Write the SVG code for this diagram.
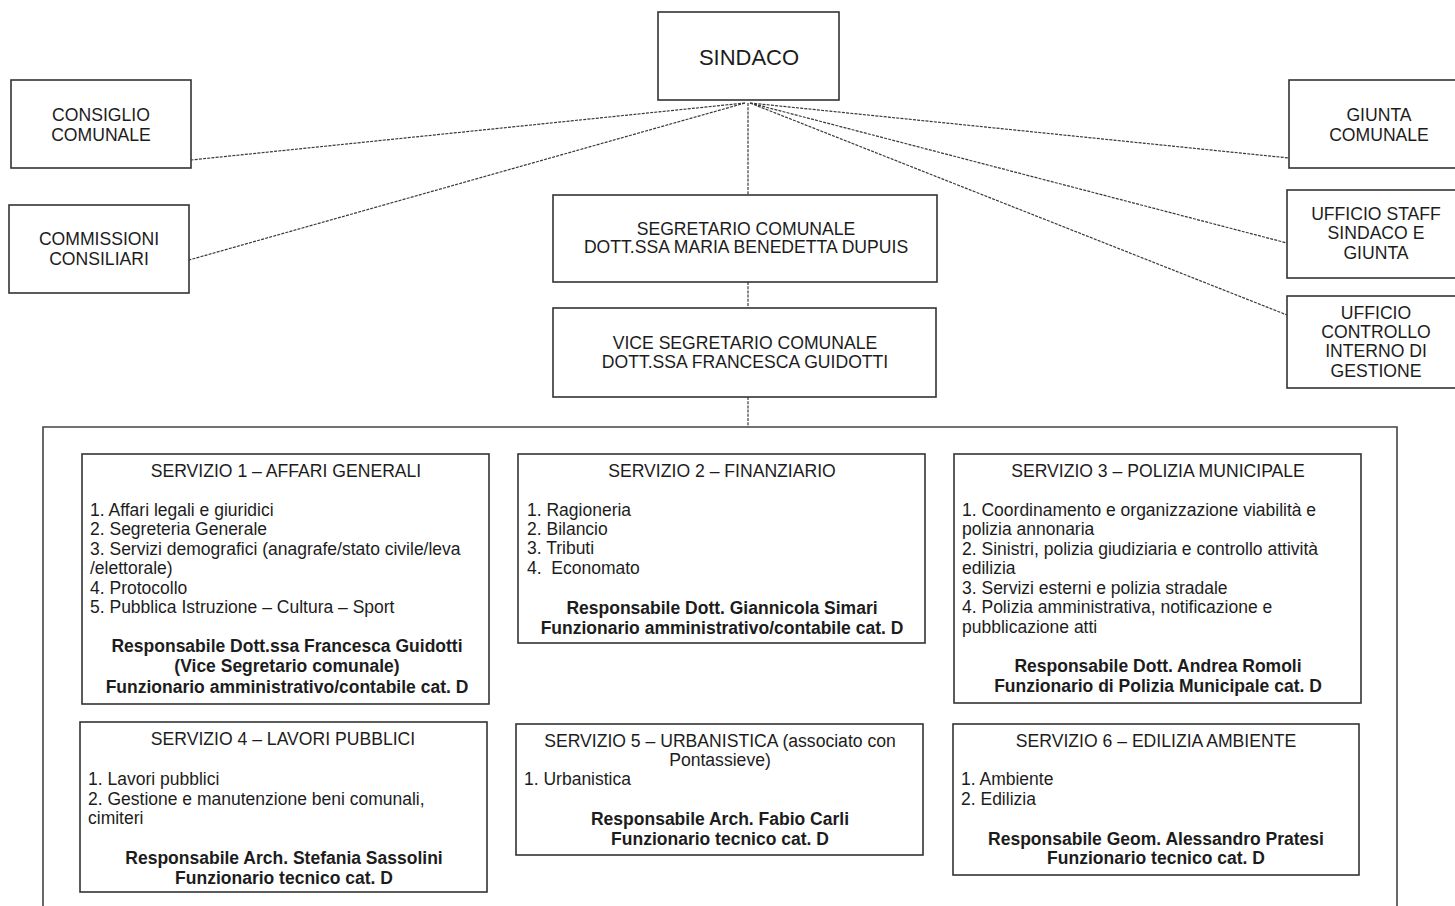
<svg xmlns="http://www.w3.org/2000/svg" width="1455" height="906" viewBox="0 0 1455 906">
<style>
.box{fill:#fff;stroke:#333;stroke-width:1.6}
.cont{fill:none;stroke:#444;stroke-width:1.6}
text{font-family:"Liberation Sans",Arial,sans-serif;fill:#1c1c1c}
.n{font-size:17.6px;text-anchor:middle}
.t{font-size:17.6px;text-anchor:middle}
.i{font-size:17.5px}
.b{font-size:17.5px;font-weight:bold;text-anchor:middle}
.c{fill:none;stroke:#3a3a3a;stroke-width:1.2;stroke-dasharray:3 1.2}
</style>
<rect width="1455" height="906" fill="#fff"/>
<g id="connectors">
<line class="c" x1="745" y1="103" x2="191" y2="160"/>
<line class="c" x1="745" y1="103" x2="189" y2="260"/>
<line class="c" x1="750" y1="103" x2="1289" y2="158"/>
<line class="c" x1="750" y1="103" x2="1287" y2="243"/>
<line class="c" x1="750" y1="103" x2="1287" y2="315"/>
<line class="c" x1="748" y1="103" x2="748" y2="195"/>
<line class="c" x1="748" y1="282" x2="748" y2="308"/>
<line class="c" x1="748" y1="397" x2="748" y2="427"/>
</g>
<g id="sindaco">
<rect class="box" x="658" y="12" width="181" height="88"/>
<text x="749" y="65" style="font-size:22px;text-anchor:middle">SINDACO</text>
</g>
<g id="consiglio">
<rect class="box" x="11" y="80" width="180" height="88"/>
<text class="n" x="101" y="121">CONSIGLIO</text>
<text class="n" x="101" y="141">COMUNALE</text>
</g>
<g id="commissioni">
<rect class="box" x="9" y="205" width="180" height="88"/>
<text class="n" x="99" y="245">COMMISSIONI</text>
<text class="n" x="99" y="265">CONSILIARI</text>
</g>
<g id="giunta">
<rect class="box" x="1289" y="80" width="180" height="88"/>
<text class="n" x="1379" y="121">GIUNTA</text>
<text class="n" x="1379" y="141">COMUNALE</text>
</g>
<g id="staff">
<rect class="box" x="1287" y="190" width="180" height="88"/>
<text class="n" x="1376" y="220">UFFICIO STAFF</text>
<text class="n" x="1376" y="239">SINDACO E</text>
<text class="n" x="1376" y="259">GIUNTA</text>
</g>
<g id="controllo">
<rect class="box" x="1287" y="296" width="180" height="92"/>
<text class="n" x="1376" y="319">UFFICIO</text>
<text class="n" x="1376" y="338">CONTROLLO</text>
<text class="n" x="1376" y="357">INTERNO DI</text>
<text class="n" x="1376" y="377">GESTIONE</text>
</g>
<g id="segretario">
<rect class="box" x="553" y="195" width="384" height="87"/>
<text class="n" x="746" y="235">SEGRETARIO COMUNALE</text>
<text class="n" x="746" y="253">DOTT.SSA MARIA BENEDETTA DUPUIS</text>
</g>
<g id="vice">
<rect class="box" x="553" y="308" width="383" height="89"/>
<text class="n" x="745" y="349">VICE SEGRETARIO COMUNALE</text>
<text class="n" x="745" y="368">DOTT.SSA FRANCESCA GUIDOTTI</text>
</g>
<g id="servizi">
<path class="cont" d="M43 910 V427 H1397 V910"/>
</g>
<g id="servizio1">
<rect class="box" x="82" y="454" width="407" height="250"/>
<text class="t" x="286" y="477">SERVIZIO 1 – AFFARI GENERALI</text>
<text class="i" x="90" y="516">1. Affari legali e giuridici</text>
<text class="i" x="90" y="535">2. Segreteria Generale</text>
<text class="i" x="90" y="555">3. Servizi demografici (anagrafe/stato civile/leva</text>
<text class="i" x="90" y="574">/elettorale)</text>
<text class="i" x="90" y="594">4. Protocollo</text>
<text class="i" x="90" y="613">5. Pubblica Istruzione – Cultura – Sport</text>
<text class="b" x="287" y="652">Responsabile Dott.ssa Francesca Guidotti</text>
<text class="b" x="287" y="672">(Vice Segretario comunale)</text>
<text class="b" x="287" y="693">Funzionario amministrativo/contabile cat. D</text>
</g>
<g id="servizio2">
<rect class="box" x="518" y="454" width="407" height="189"/>
<text class="t" x="722" y="477">SERVIZIO 2 – FINANZIARIO</text>
<text class="i" x="527" y="516">1. Ragioneria</text>
<text class="i" x="527" y="535">2. Bilancio</text>
<text class="i" x="527" y="554">3. Tributi</text>
<text class="i" x="527" y="574" xml:space="preserve">4.  Economato</text>
<text class="b" x="722" y="614">Responsabile Dott. Giannicola Simari</text>
<text class="b" x="722" y="634">Funzionario amministrativo/contabile cat. D</text>
</g>
<g id="servizio3">
<rect class="box" x="954" y="454" width="407" height="249"/>
<text class="t" x="1158" y="477">SERVIZIO 3 – POLIZIA MUNICIPALE</text>
<text class="i" x="962" y="516">1. Coordinamento e organizzazione viabilità e</text>
<text class="i" x="962" y="535">polizia annonaria</text>
<text class="i" x="962" y="555">2. Sinistri, polizia giudiziaria e controllo attività</text>
<text class="i" x="962" y="574">edilizia</text>
<text class="i" x="962" y="594">3. Servizi esterni e polizia stradale</text>
<text class="i" x="962" y="613">4. Polizia amministrativa, notificazione e</text>
<text class="i" x="962" y="633">pubblicazione atti</text>
<text class="b" x="1158" y="672">Responsabile Dott. Andrea Romoli</text>
<text class="b" x="1158" y="692">Funzionario di Polizia Municipale cat. D</text>
</g>
<g id="servizio4">
<rect class="box" x="80" y="722" width="407" height="170"/>
<text class="t" x="283" y="745">SERVIZIO 4 – LAVORI PUBBLICI</text>
<text class="i" x="88" y="785">1. Lavori pubblici</text>
<text class="i" x="88" y="805">2. Gestione e manutenzione beni comunali,</text>
<text class="i" x="88" y="824">cimiteri</text>
<text class="b" x="284" y="864">Responsabile Arch. Stefania Sassolini</text>
<text class="b" x="284" y="884">Funzionario tecnico cat. D</text>
</g>
<g id="servizio5">
<rect class="box" x="516" y="724" width="407" height="131"/>
<text class="t" x="720" y="747">SERVIZIO 5 – URBANISTICA (associato con</text>
<text class="t" x="720" y="766">Pontassieve)</text>
<text class="i" x="524" y="785">1. Urbanistica</text>
<text class="b" x="720" y="825">Responsabile Arch. Fabio Carli</text>
<text class="b" x="720" y="845">Funzionario tecnico cat. D</text>
</g>
<g id="servizio6">
<rect class="box" x="953" y="724" width="406" height="151"/>
<text class="t" x="1156" y="747">SERVIZIO 6 – EDILIZIA AMBIENTE</text>
<text class="i" x="961" y="785">1. Ambiente</text>
<text class="i" x="961" y="805">2. Edilizia</text>
<text class="b" x="1156" y="845">Responsabile Geom. Alessandro Pratesi</text>
<text class="b" x="1156" y="864">Funzionario tecnico cat. D</text>
</g>
</svg>
